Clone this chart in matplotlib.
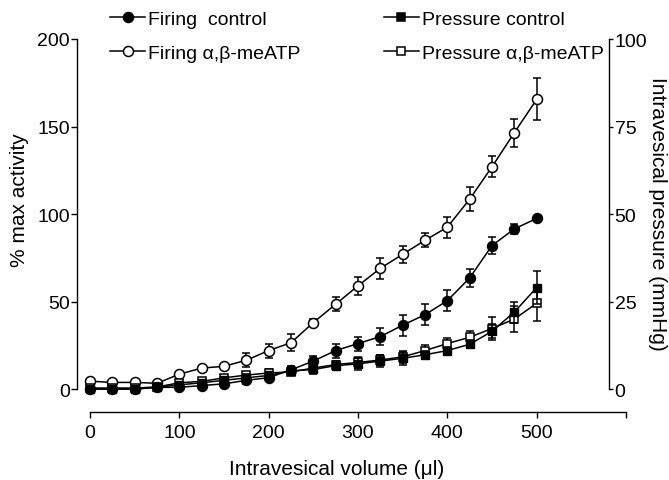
import matplotlib
matplotlib.use("Agg")
import matplotlib.pyplot as plt
from matplotlib.lines import Line2D
import numpy as np

plt.rcParams['font.family'] = ['Liberation Sans', 'DejaVu Sans']

# Objetosc wewnatrzpecherzowa (ul)
volume = np.arange(0, 501, 25)

# Aktywnosc (% max) - lewa os
firing_ctrl = [0, 0, 0, 1, 1, 2, 3, 5, 6.5, 11, 16, 22, 26, 30, 36.5, 42.5, 50.5, 63.5, 82, 91.5, 97.5]
firing_ctrl_err = [0, 0, 0, 0.5, 1, 1, 1.5, 2, 2, 2, 3, 4, 4, 5, 6, 6, 6, 5, 5, 3, 0]
firing_ab = [4.5, 3.8, 3.8, 3.3, 8.5, 12, 13, 16.5, 22, 26.5, 38, 48.5, 59, 69, 77, 85, 92.5, 108.5, 127, 146.5, 165.5]
firing_ab_err = [1, 0.5, 0.5, 0.5, 1, 1, 1, 4, 4, 5, 2, 4, 5, 6, 5, 4, 6, 7, 6, 8, 12]

# Cisnienie (mmHg) - prawa os
press_ctrl = [0, 0, 0, 0.5, 1.2, 1.8, 2.5, 3.2, 3.9, 5.2, 5.6, 6.7, 7.2, 8, 8.8, 9.8, 11, 12.8, 16.5, 22, 29]
press_ctrl_err = [0.3, 0.3, 0.3, 0.5, 0.5, 0.7, 0.8, 1, 1, 1, 1.3, 1.3, 1.7, 1.8, 1.8, 1.2, 1, 1.2, 2, 3, 4.6]
press_ab = [0.3, 0.3, 0.3, 0.6, 1.8, 2.2, 3.2, 4, 4.6, 4.9, 6, 7, 7.6, 8.3, 9.2, 11, 13, 14.8, 17.3, 20, 24.5]
press_ab_err = [0.3, 0.3, 0.3, 0.5, 0.5, 0.7, 0.8, 1, 1, 1, 1, 1, 1.5, 1.5, 1.8, 1.6, 1.7, 1.8, 3.3, 3.8, 5]

x_ticks = [0, 100, 200, 300, 400, 500, 600]
x_tick_labels = ['0', '100', '200', '300', '400', '500', '']

fig = plt.figure(figsize=(6.69, 4.81), dpi=100)
W, H = 669, 481
# os: lewa krawedz 77 px, prawa 626 px, dol 413 px, gora 40 px
ax = fig.add_axes([77 / W, (H - 413) / H, (626 - 77) / W, (413 - 40) / H])
ax2 = ax.twinx()

style = dict(color='black', linewidth=1.1, capsize=2.9, elinewidth=1.1, capthick=1.1)

ax.errorbar(volume, firing_ab, yerr=firing_ab_err, fmt='-o', markersize=7.2,
            markerfacecolor='white', markeredgecolor='black', markeredgewidth=1.1,
            zorder=3, **style)
ax.errorbar(volume, firing_ctrl, yerr=firing_ctrl_err, fmt='-o', markersize=7.2,
            markerfacecolor='black', markeredgecolor='black', zorder=4, **style)
ax2.errorbar(volume, press_ab, yerr=press_ab_err, fmt='-s', markersize=6.3,
             markerfacecolor='white', markeredgecolor='black', markeredgewidth=1.1,
             zorder=3, **style)
ax2.errorbar(volume, press_ctrl, yerr=press_ctrl_err, fmt='-s', markersize=6.3,
             markerfacecolor='black', markeredgecolor='black', zorder=4, **style)

# Zakresy osi
ax.set_xlim(-14.6, 600)
ax.set_ylim(-13.1, 200)
ax2.set_ylim(-6.55, 100)

for s in ['top', 'right']:
    ax.spines[s].set_visible(False)
for s in ['top', 'left', 'bottom']:
    ax2.spines[s].set_visible(False)
ax.spines['left'].set_bounds(0, 200)
ax.spines['bottom'].set_bounds(0, 600)
ax2.spines['right'].set_position(('data', 581))
ax2.spines['right'].set_bounds(0, 100)
for sp in [ax.spines['left'], ax.spines['bottom'], ax2.spines['right']]:
    sp.set_linewidth(1.0)

ax.set_xticks(x_ticks)
ax.set_xticklabels(x_tick_labels)
ax.set_yticks([0, 50, 100, 150, 200])
ax2.set_yticks([0, 25, 50, 75, 100])
ax.tick_params(axis='x', direction='out', length=4, width=1, labelsize=14, pad=5)
ax.tick_params(axis='y', direction='out', length=4, width=1, labelsize=14, pad=1)
ax2.tick_params(axis='y', direction='out', length=3, width=1, labelsize=14, pad=1)

# Opisy osi
fig.text(337 / W, 1 - 470 / H, u'Intravesical volume (\u03bcl)', fontsize=15,
         ha='center', va='center')
fig.text(20 / W, 1 - 200 / H, '% max activity', fontsize=15, rotation=90,
         ha='center', va='center')
fig.text(657 / W, 1 - 214 / H, 'Intravesical pressure (mmHg)', fontsize=15,
         rotation=270, ha='center', va='center')

# Legenda - linia z markerem, bez slupkow bledu
def handle(marker, face, size):
    return Line2D([], [], color='black', linewidth=1.1, marker=marker, markersize=size,
                  markerfacecolor=face, markeredgecolor='black', markeredgewidth=1.1)

handles = [handle('o', 'black', 7.2), handle('o', 'white', 7.2),
           handle('s', 'black', 6.3), handle('s', 'white', 6.3)]
labels = ['Firing  control', u'Firing \u03b1,\u03b2-meATP',
          'Pressure control', u'Pressure \u03b1,\u03b2-meATP']
fig.legend(handles, labels, ncol=2, loc='upper left',
           bbox_to_anchor=(110 / W, 1 - 11 / H), frameon=False, fontsize=14,
           handlelength=1.8, handletextpad=0.15, columnspacing=4.3,
           labelspacing=0.85, borderaxespad=0, borderpad=0)

plt.savefig('out.png', dpi=100)
